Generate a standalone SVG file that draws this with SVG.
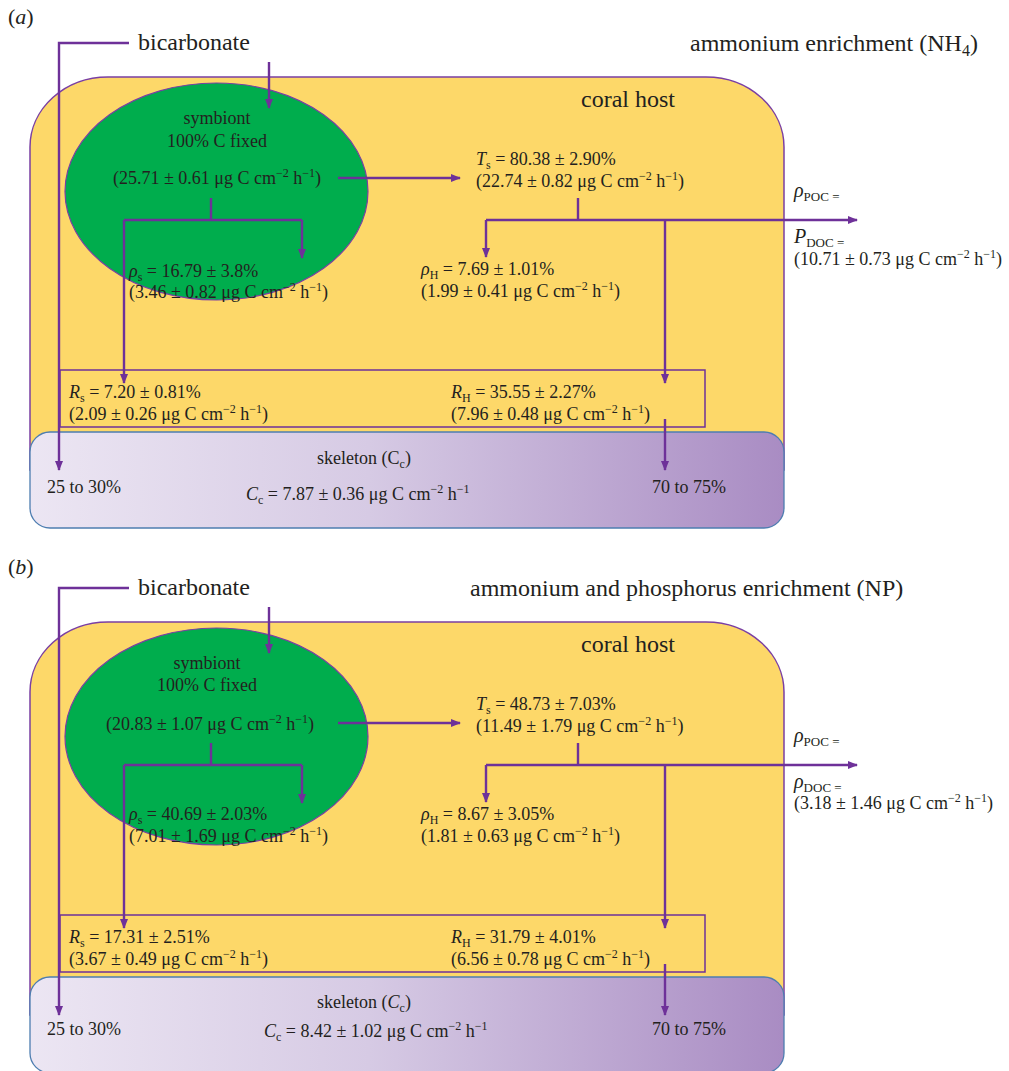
<svg xmlns="http://www.w3.org/2000/svg" width="1009" height="1071" viewBox="0 0 1009 1071">
<style>
.t{font-family:"Liberation Serif","Times New Roman",serif;font-size:18px;fill:#231F20}
.big{font-size:24px}
.lab{font-size:22px}
.i{font-style:italic}
.s{font-size:12px}
.m{text-anchor:middle}
.c{stroke:#6E3199;stroke-width:2.4;fill:none}
.a{marker-end:url(#ah)}
.host{fill:#FDD869;stroke:#7A3FA3;stroke-width:1.5}
.sym{fill:#00AD4D;stroke:#7A3FA3;stroke-width:1.2}
.skel{fill:url(#skg);stroke:#4D7DB0;stroke-width:1.3}
.box{fill:none;stroke:#6E3199;stroke-width:1.5}
</style>
<defs>
<marker id="ah" markerUnits="userSpaceOnUse" markerWidth="10" markerHeight="8" refX="9" refY="4" orient="auto">
<path d="M0,0 L10,4 L0,8 z" fill="#6E3199"/>
</marker>
<linearGradient id="skg" x1="0" y1="0" x2="1" y2="0">
<stop offset="0" stop-color="#ECE6F3"/>
<stop offset="0.45" stop-color="#D6CAE4"/>
<stop offset="1" stop-color="#A98CC3"/>
</linearGradient>
</defs>

<!-- Panel a -->
<g id="coral-host-a"><path class="host" d="M30,470 V147 A78,70 0 0 1 108,77 H706 A78,70 0 0 1 784,147 V470 Z"/></g>
<g id="symbiont-a"><ellipse class="sym" cx="216.5" cy="191.5" rx="151.5" ry="108.5"/></g>
<g id="skeleton-a"><rect class="skel" x="30" y="432" width="754" height="96" rx="20" ry="20"/></g>
<g id="respiration-box-a"><rect class="box" x="60" y="370" width="645" height="57"/></g>
<g id="connectors-a">
<path class="c a" d="M129,43 H59 V470"/>
<path class="c a" d="M269,62 V108"/>
<path class="c a" d="M338,178 H460"/>
<path class="c" d="M211,198 V220 M124,220 H302"/>
<path class="c a" d="M302,220 V258"/>
<path class="c a" d="M124,220 V383"/>
<path class="c" d="M578,198 V220"/>
<path class="c a" d="M486,220 V257"/>
<path class="c a" d="M486,220 H857"/>
<path class="c a" d="M665,220 V383"/>
<path class="c a" d="M665,419 V470"/>
</g>
<g id="texts-a">
<text class="t lab" x="8" y="24">(<tspan class="i">a</tspan>)</text>
<text class="t big" x="138" y="50">bicarbonate</text>
<text class="t big" x="690" y="51">ammonium enrichment (NH<tspan font-size="16" dy="5">4</tspan><tspan dy="-5">)</tspan></text>
<text class="t big m" x="628" y="107">coral host</text>
<text class="t m" x="217" y="124">symbiont</text>
<text class="t m" x="217" y="147">100% C fixed</text>
<text class="t m" x="217" y="184">(25.71 ± 0.61 μg C cm<tspan class="s" dy="-7">−2</tspan><tspan dy="7"> h</tspan><tspan class="s" dy="-7">−1</tspan><tspan dy="7">)</tspan></text>
<text class="t" x="476" y="165"><tspan class="i">T</tspan><tspan class="s" dy="4">s</tspan><tspan dy="-4"> = 80.38 ± 2.90%</tspan></text>
<text class="t" x="476" y="187">(22.74 ± 0.82 μg C cm<tspan class="s" dy="-7">−2</tspan><tspan dy="7"> h</tspan><tspan class="s" dy="-7">−1</tspan><tspan dy="7">)</tspan></text>
<text class="t" x="794" y="197"><tspan class="i" font-size="20">ρ</tspan><tspan font-size="13" dy="4">POC =</tspan></text>
<text class="t" x="794" y="243"><tspan class="i" font-size="20">P</tspan><tspan font-size="13" dy="4">DOC =</tspan></text>
<text class="t" x="794" y="265">(10.71 ± 0.73 μg C cm<tspan class="s" dy="-7">−2</tspan><tspan dy="7"> h</tspan><tspan class="s" dy="-7">−1</tspan><tspan dy="7">)</tspan></text>
<text class="t" x="421" y="275"><tspan class="i">ρ</tspan><tspan class="s" dy="4">H</tspan><tspan dy="-4"> = 7.69 ± 1.01%</tspan></text>
<text class="t" x="421" y="297">(1.99 ± 0.41 μg C cm<tspan class="s" dy="-7">−2</tspan><tspan dy="7"> h</tspan><tspan class="s" dy="-7">−1</tspan><tspan dy="7">)</tspan></text>
<text class="t" x="129" y="277"><tspan class="i">ρ</tspan><tspan class="s" dy="4">s</tspan><tspan dy="-4"> = 16.79 ± 3.8%</tspan></text>
<text class="t" x="129" y="298">(3.46 ± 0.82 μg C cm<tspan class="s" dy="-7">−2</tspan><tspan dy="7"> h</tspan><tspan class="s" dy="-7">−1</tspan><tspan dy="7">)</tspan></text>
<text class="t" x="69" y="398"><tspan class="i">R</tspan><tspan class="s" dy="4">s</tspan><tspan dy="-4"> = 7.20 ± 0.81%</tspan></text>
<text class="t" x="69" y="420">(2.09 ± 0.26 μg C cm<tspan class="s" dy="-7">−2</tspan><tspan dy="7"> h</tspan><tspan class="s" dy="-7">−1</tspan><tspan dy="7">)</tspan></text>
<text class="t" x="451" y="398"><tspan class="i">R</tspan><tspan class="s" dy="4">H</tspan><tspan dy="-4"> = 35.55 ± 2.27%</tspan></text>
<text class="t" x="451" y="420">(7.96 ± 0.48 μg C cm<tspan class="s" dy="-7">−2</tspan><tspan dy="7"> h</tspan><tspan class="s" dy="-7">−1</tspan><tspan dy="7">)</tspan></text>
<text class="t m" x="364" y="464">skeleton (C<tspan class="s" dy="4">c</tspan><tspan dy="-4">)</tspan></text>
<text class="t" x="47" y="493">25 to 30%</text>
<text class="t" x="652" y="493">70 to 75%</text>
<text class="t" x="246" y="500"><tspan class="i">C</tspan><tspan class="s" dy="4">c</tspan><tspan dy="-4"> = 7.87 ± 0.36 μg C cm</tspan><tspan class="s" dy="-7">−2</tspan><tspan dy="7"> h</tspan><tspan class="s" dy="-7">−1</tspan></text>
</g>

<!-- Panel b -->
<g id="coral-host-b" transform="translate(0,545)"><path class="host" d="M30,470 V147 A78,70 0 0 1 108,77 H706 A78,70 0 0 1 784,147 V470 Z"/></g>
<g id="symbiont-b" transform="translate(0,545)"><ellipse class="sym" cx="216.5" cy="191.5" rx="151.5" ry="108.5"/></g>
<g id="skeleton-b" transform="translate(0,545)"><rect class="skel" x="30" y="432" width="754" height="96" rx="20" ry="20"/></g>
<g id="respiration-box-b" transform="translate(0,545)"><rect class="box" x="60" y="370" width="645" height="57"/></g>
<g id="connectors-b" transform="translate(0,545)">
<path class="c a" d="M129,43 H59 V470"/>
<path class="c a" d="M269,62 V108"/>
<path class="c a" d="M338,178 H460"/>
<path class="c" d="M211,198 V220 M124,220 H302"/>
<path class="c a" d="M302,220 V258"/>
<path class="c a" d="M124,220 V383"/>
<path class="c" d="M578,198 V220"/>
<path class="c a" d="M486,220 V257"/>
<path class="c a" d="M486,220 H857"/>
<path class="c a" d="M665,220 V383"/>
<path class="c a" d="M665,419 V470"/>
</g>
<g id="texts-b">
<text class="t lab" x="8" y="574">(<tspan class="i">b</tspan>)</text>
<text class="t big" x="138" y="595">bicarbonate</text>
<text class="t big" x="470" y="596">ammonium and phosphorus enrichment (NP)</text>
<text class="t big m" x="628" y="652">coral host</text>
<text class="t m" x="207" y="669">symbiont</text>
<text class="t m" x="207" y="691">100% C fixed</text>
<text class="t m" x="210" y="730">(20.83 ± 1.07 μg C cm<tspan class="s" dy="-7">−2</tspan><tspan dy="7"> h</tspan><tspan class="s" dy="-7">−1</tspan><tspan dy="7">)</tspan></text>
<text class="t" x="476" y="710"><tspan class="i">T</tspan><tspan class="s" dy="4">s</tspan><tspan dy="-4"> = 48.73 ± 7.03%</tspan></text>
<text class="t" x="476" y="732">(11.49 ± 1.79 μg C cm<tspan class="s" dy="-7">−2</tspan><tspan dy="7"> h</tspan><tspan class="s" dy="-7">−1</tspan><tspan dy="7">)</tspan></text>
<text class="t" x="794" y="742"><tspan class="i" font-size="20">ρ</tspan><tspan font-size="13" dy="4">POC =</tspan></text>
<text class="t" x="794" y="788"><tspan class="i" font-size="20">ρ</tspan><tspan font-size="13" dy="4">DOC =</tspan></text>
<text class="t" x="794" y="809">(3.18 ± 1.46 μg C cm<tspan class="s" dy="-7">−2</tspan><tspan dy="7"> h</tspan><tspan class="s" dy="-7">−1</tspan><tspan dy="7">)</tspan></text>
<text class="t" x="421" y="820"><tspan class="i">ρ</tspan><tspan class="s" dy="4">H</tspan><tspan dy="-4"> = 8.67 ± 3.05%</tspan></text>
<text class="t" x="421" y="842">(1.81 ± 0.63 μg C cm<tspan class="s" dy="-7">−2</tspan><tspan dy="7"> h</tspan><tspan class="s" dy="-7">−1</tspan><tspan dy="7">)</tspan></text>
<text class="t" x="129" y="820"><tspan class="i">ρ</tspan><tspan class="s" dy="4">s</tspan><tspan dy="-4"> = 40.69 ± 2.03%</tspan></text>
<text class="t" x="129" y="842">(7.01 ± 1.69 μg C cm<tspan class="s" dy="-7">−2</tspan><tspan dy="7"> h</tspan><tspan class="s" dy="-7">−1</tspan><tspan dy="7">)</tspan></text>
<text class="t" x="69" y="943"><tspan class="i">R</tspan><tspan class="s" dy="4">s</tspan><tspan dy="-4"> = 17.31 ± 2.51%</tspan></text>
<text class="t" x="69" y="965">(3.67 ± 0.49 μg C cm<tspan class="s" dy="-7">−2</tspan><tspan dy="7"> h</tspan><tspan class="s" dy="-7">−1</tspan><tspan dy="7">)</tspan></text>
<text class="t" x="451" y="943"><tspan class="i">R</tspan><tspan class="s" dy="4">H</tspan><tspan dy="-4"> = 31.79 ± 4.01%</tspan></text>
<text class="t" x="451" y="965">(6.56 ± 0.78 μg C cm<tspan class="s" dy="-7">−2</tspan><tspan dy="7"> h</tspan><tspan class="s" dy="-7">−1</tspan><tspan dy="7">)</tspan></text>
<text class="t m" x="364" y="1008">skeleton (<tspan class="i">C</tspan><tspan class="s" dy="4">c</tspan><tspan dy="-4">)</tspan></text>
<text class="t" x="47" y="1035">25 to 30%</text>
<text class="t" x="652" y="1035">70 to 75%</text>
<text class="t" x="264" y="1037"><tspan class="i">C</tspan><tspan class="s" dy="4">c</tspan><tspan dy="-4"> = 8.42 ± 1.02 μg C cm</tspan><tspan class="s" dy="-7">−2</tspan><tspan dy="7"> h</tspan><tspan class="s" dy="-7">−1</tspan></text>
</g>
</svg>
